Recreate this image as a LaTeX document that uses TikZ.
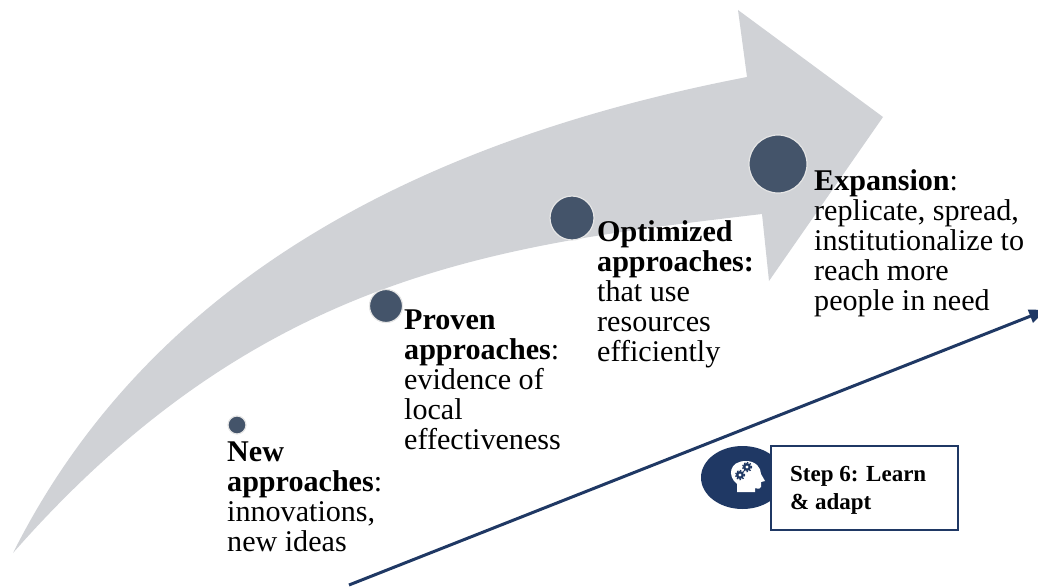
\documentclass[tikz,border=0pt]{standalone}
\usepackage{fontspec}
\setmainfont{Liberation Serif}
\usetikzlibrary{arrows,shapes.geometric}
\tikzset{
  stagedot/.style={circle, draw=black!10, line width=1.2pt, fill=dotblue, inner sep=0pt},
  stagetext/.style={anchor=north west, align=left, inner sep=0pt, font=\fontsize{30.1}{30}\selectfont},
  stepbox/.style={draw=navy, line width=2pt, fill=white, minimum width=187pt, minimum height=84pt, inner sep=0pt},
  gearteeth/.style={navy, line width=1.2pt, dash pattern=on 1.5pt off 1.5pt}
}
\definecolor{arrowgrey}{HTML}{D0D2D6}
\definecolor{dotblue}{HTML}{44546A}
\definecolor{navy}{HTML}{1F3864}
\begin{document}
\begin{tikzpicture}[x=1pt, y=-1pt]

            \useasboundingbox (0,0) rectangle (1038,586);

            \fill [arrowgrey] (13,553) .. controls (150,280) and (420,140) .. (747,77)
            -- (738,10) -- (883,117) -- (769,281) -- (762,214)
            .. controls (500,245) and (260,272) .. (13,553) -- cycle;

            \node [stagedot, minimum size=18pt] (newDot) at (237,425) {};
            \node [stagedot, minimum size=33pt] (provenDot) at (386,306) {};
            \node [stagedot, minimum size=44pt] (optimizedDot) at (572,218) {};
            \node [stagedot, minimum size=58pt] (expansionDot) at (778,164) {};

            \node [stagetext] (newText) at (227,441.5)
            {\textbf{New}\\\textbf{approaches}:\\innovations,\\new ideas};
            \node [stagetext] (provenText) at (404,309.5)
            {\textbf{Proven}\\\textbf{approaches}:\\evidence of\\local\\effectiveness};
            \node [stagetext] (optimizedText) at (597,220.5)
            {\textbf{Optimized}\\\textbf{approaches:}\\that use\\resources\\efficiently};
            \node [stagetext] (expansionText) at (814,169.5)
            {\textbf{Expansion}:\\replicate, spread,\\institutionalize to\\reach more\\people in need};

            \coordinate (lineStart) at (349,585);
            \coordinate (lineEnd) at (1046,310);
            \draw [navy, line width=3pt, arrows={-triangle 45}] (lineStart) -- (lineEnd);

            \node [ellipse, fill=navy, minimum width=83pt, minimum height=63pt, inner sep=0pt] (stepBadge) at (742.5,477.5) {};
            \node [stepbox] (stepBox) at (864,488) {};
            \node [anchor=west, align=left, inner sep=0pt, font=\fontsize{23}{28}\selectfont\bfseries] (stepText) at (790,490.5)
            {Step 6: Learn\\\& adapt};

            \fill [white] (737,492) -- (737,484) .. controls (727,476) and (729,461) .. (746,461)
            .. controls (756,461) and (761,468) .. (761,474) -- (765,481) -- (761,482) -- (761,487)
            .. controls (761,489) and (758,489) .. (755,488) -- (755,492) -- cycle;
            \fill [navy] (747,467) circle (4);
            \fill [navy] (740,475) circle (4);
            \draw [gearteeth] (747,467) circle (4.6);
            \draw [gearteeth] (740,475) circle (4.6);
            \fill [white] (747,467) circle (1.6);
            \fill [white] (740,475) circle (1.6);

\end{tikzpicture}
\end{document}
